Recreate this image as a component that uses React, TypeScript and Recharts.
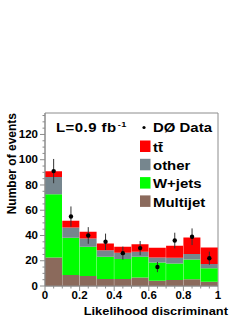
import * as React from "react";
import {
  Bar,
  ComposedChart,
  ErrorBar,
  ReferenceArea,
  Scatter,
  XAxis,
  YAxis,
} from "recharts";

// bins of the likelihood discriminant (centres)
const binLabels = ["0.0-0.1", "0.1-0.2", "0.2-0.3", "0.3-0.4", "0.4-0.5", "0.5-0.6", "0.6-0.7", "0.7-0.8", "0.8-0.9", "0.9-1.0"];
const binCentres = [0.05, 0.15, 0.25, 0.35, 0.45, 0.55, 0.65, 0.75, 0.85, 0.95];

// stacked expectations, bottom to top
const multijet = [22.6, 8.7, 7.9, 5.5, 5.5, 6.8, 4.2, 4.7, 5.3, 3.4];
const wjets = [50.0, 29.5, 23.1, 17.7, 15.8, 16.4, 14.5, 13.2, 15.7, 10.6];
const other = [13.7, 8.1, 6.6, 5.2, 5.0, 3.9, 3.9, 4.5, 4.3, 3.4];
const ttbar = [4.5, 5.3, 5.3, 5.3, 4.7, 6.0, 7.7, 9.4, 13.1, 13.1];

// D0 data with statistical errors
const dataCounts = [91, 55, 40, 35, 26, 30, 15, 36, 39, 22];
const dataErrors = [9.6, 8.0, 6.6, 6.5, 5.2, 5.6, 4.0, 6.2, 6.6, 5.2];

const yTicks = Array.from({ length: 28 }, (_, i) => i * 5);
const xTicks = Array.from({ length: 21 }, (_, i) => i * 0.05);

const COLORS = {
  ttbar: "#ff0000",
  other: "#76868e",
  wjets: "#00ff00",
  multijet: "#8b6a5c",
};

const FONT = "'Liberation Sans', Arial, Helvetica, sans-serif";
const FRAME = "#8c8c8c";

const rows = binLabels.map((bin, i) => ({
  bin,
  x: binCentres[i],
  multijet: multijet[i],
  wjets: wjets[i],
  other: other[i],
  ttbar: ttbar[i],
  data: dataCounts[i],
  err: dataErrors[i],
}));

function YTick({ x, y, payload }: any) {
  const v = payload.value;
  const major = v % 20 === 0;
  return (
    <g>
      <line x1={x} x2={x - (major ? 5 : 2.5)} y1={y} y2={y} stroke={FRAME} />
      {major && (
        <text
          transform={`translate(${x - 7},${y + 3.6}) scale(1.15,1)`}
          textAnchor="end"
          fontSize={10}
          fontWeight="bold"
          fontFamily={FONT}
          fill="#000"
        >
          {v}
        </text>
      )}
    </g>
  );
}

function XTick({ x, y, payload }: any) {
  const v = payload.value;
  const major = Math.round(v * 100) % 20 === 0;
  const label = v === 0 ? "0" : v >= 0.999 ? "1" : v.toFixed(1);
  return (
    <g>
      <line x1={x} x2={x} y1={y} y2={y + (major ? 5 : 2.5)} stroke={FRAME} />
      {major && (
        <text
          transform={`translate(${x},${y + 13}) scale(1.15,1)`}
          textAnchor="middle"
          fontSize={10}
          fontWeight="bold"
          fontFamily={FONT}
          fill="#000"
        >
          {label}
        </text>
      )}
    </g>
  );
}

function Dot({ cx, cy }: any) {
  return <circle cx={cx} cy={cy} r={2.2} fill="#000" />;
}

const legendItems = [
  { key: "ttbar", label: "tt\u0304" },
  { key: "other", label: "other" },
  { key: "wjets", label: "W+jets" },
  { key: "multijet", label: "Multijet" },
] as const;

export default function App() {
  return (
    <div style={{ position: "absolute", left: 0, top: 0, width: 249, height: 323, background: "#fff" }}>
      <ComposedChart
        width={249}
        height={323}
        data={rows}
        margin={{ top: 113, right: 31, bottom: 21, left: 0 }}
        barCategoryGap={0}
        barGap={0}
      >
        <XAxis
          xAxisId="num"
          dataKey="x"
          type="number"
          domain={[0, 1]}
          ticks={xTicks}
          interval={0}
          tickSize={0}
          tickMargin={0}
          tick={<XTick />}
          axisLine={{ stroke: FRAME }}
          height={16}
        />
        <XAxis xAxisId="cat" dataKey="bin" hide height={0} />
        <YAxis
          type="number"
          domain={[0, 137]}
          ticks={yTicks}
          interval={0}
          allowDataOverflow
          width={45}
          tickSize={0}
          tickMargin={0}
          tick={<YTick />}
          axisLine={{ stroke: FRAME }}
        />
        <Bar xAxisId="cat" dataKey="multijet" stackId="mc" fill={COLORS.multijet} isAnimationActive={false} />
        <Bar xAxisId="cat" dataKey="wjets" stackId="mc" fill={COLORS.wjets} isAnimationActive={false} />
        <Bar xAxisId="cat" dataKey="other" stackId="mc" fill={COLORS.other} isAnimationActive={false} />
        <Bar xAxisId="cat" dataKey="ttbar" stackId="mc" fill={COLORS.ttbar} isAnimationActive={false} />
        <ReferenceArea xAxisId="num" x1={0} x2={1} y1={0} y2={137} fill="none" stroke={FRAME} strokeWidth={1} ifOverflow="visible" />
        <Scatter xAxisId="num" dataKey="data" shape={<Dot />} isAnimationActive={false}>
          <ErrorBar dataKey="err" direction="y" width={0} stroke="#333" strokeWidth={1} isAnimationActive={false} />
        </Scatter>
      </ComposedChart>

      <svg
        width={249}
        height={323}
        style={{ position: "absolute", left: 0, top: 0, pointerEvents: "none" }}
        fontFamily={FONT}
        fontWeight="bold"
      >
        <text transform="translate(15.5,113) rotate(-90)" textAnchor="end" fontSize={12}>
          Number of events
        </text>
        <text transform="translate(228,315) scale(1.12,1)" textAnchor="end" fontSize={11.5}>
          Likelihood discriminant
        </text>
        <text transform="translate(56,132) scale(1.15,1)" fontSize={13} letterSpacing={0.4}>
          L=0.9 fb
          <tspan fontSize={8} dy={-5} dx={1}>
            -1
          </tspan>
        </text>
        <circle cx={144} cy={127.5} r={1.6} fill="#000" />
        <text transform="translate(153,131.7) scale(1.15,1)" fontSize={13}>
          DØ Data
        </text>
        {legendItems.map((item, i) => {
          const top = 140.5 + i * 18.3;
          return (
            <g key={item.key}>
              <rect x={140} y={top} width={10.5} height={11.5} fill={COLORS[item.key]} />
              <text transform={`translate(153,${top + 11.3}) scale(1.15,1)`} fontSize={13}>
                {item.label}
              </text>
            </g>
          );
        })}
      </svg>
    </div>
  );
}
